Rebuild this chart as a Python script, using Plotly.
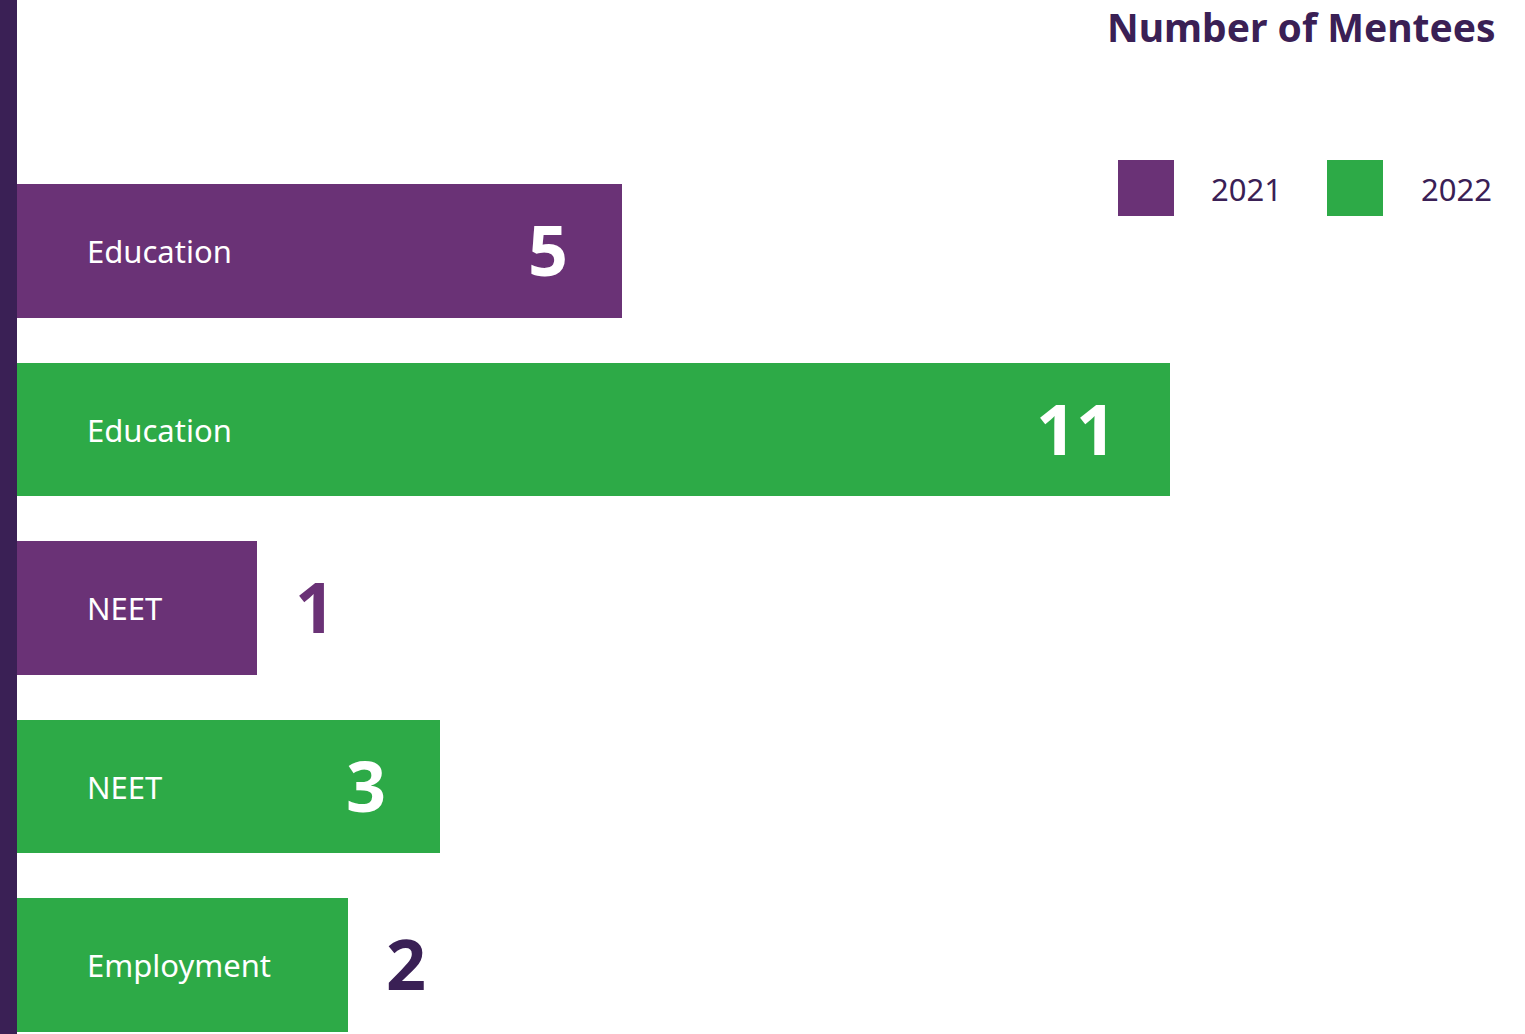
import plotly.graph_objects as go

# ---- data ----
row_labels = ["Education", "Education", "NEET", "NEET", "Employment"]
row_years = ["2021", "2022", "2021", "2022", "2022"]
row_values = [5, 11, 1, 3, 2]

years = ["2021", "2022"]
year_colors = {"2021": "#6A3276", "2022": "#2DAA47"}
dark = "#3A2055"
title_text = "Number of Mentees"

# ---- layout constants ----
W, H = 1525, 1034
OFFSET = 1.63          # bars start a bit left of zero (label room)
PX_PER_UNIT = 91.28
LEFT = 17
x0 = -OFFSET
x1 = x0 + (W - LEFT) / PX_PER_UNIT
ROW_PX = 178.5
FIRST_CENTER = 251
y_top = -FIRST_CENTER / ROW_PX
y_bot = (H - FIRST_CENTER) / ROW_PX

FONT = "Noto Sans"

fig = go.Figure()
rows = list(range(len(row_labels)))
for yr in years:
    idx = [i for i in rows if row_years[i] == yr]
    fig.add_trace(go.Bar(
        orientation="h",
        y=[i for i in idx],
        x=[row_values[i] + OFFSET for i in idx],
        base=-OFFSET,
        width=0.75,
        marker=dict(color=year_colors[yr], line=dict(width=0)),
        name=yr,
        showlegend=False,
        hoverinfo="skip",
    ))

annotations = []
for i in rows:
    v = row_values[i]
    annotations.append(dict(
        x=-OFFSET, y=i, xref="x", yref="y", text=row_labels[i],
        xanchor="left", yanchor="middle", xshift=68, showarrow=False,
        font=dict(family=FONT, size=31, color="white"),
    ))
    inside = (v + OFFSET) * PX_PER_UNIT > 380
    if inside:
        annotations.append(dict(
            x=v, y=i, xref="x", yref="y", text=f"<b>{v}</b>",
            xanchor="right", yanchor="middle", xshift=-52, yshift=2, showarrow=False,
            font=dict(family=FONT, size=70, color="white"),
        ))
    else:
        col = year_colors["2021"] if row_years[i] == "2021" else dark
        annotations.append(dict(
            x=v, y=i, xref="x", yref="y", text=f"<b>{v}</b>",
            xanchor="left", yanchor="middle", xshift=36, yshift=2, showarrow=False,
            font=dict(family=FONT, size=70, color=col),
        ))

pw = W - LEFT
# title
annotations.append(dict(
    x=(1498 - LEFT) / pw, y=1 - 26 / H, xref="paper", yref="paper", text=f"<b>{title_text}</b>",
    xanchor="right", yanchor="middle", showarrow=False,
    font=dict(family=FONT, size=39, color=dark),
))

shapes = []
# left dark strip
shapes.append(dict(type="rect", xref="paper", yref="paper",
                   x0=-LEFT / pw, x1=0, y0=0, y1=1,
                   fillcolor=dark, line=dict(width=0), layer="above"))
# custom legend
leg_sq = [(1118, 1174), (1327, 1383)]
leg_txt = [1209, 1419]
for k, yr in enumerate(years):
    sx0, sx1 = leg_sq[k]
    shapes.append(dict(type="rect", xref="paper", yref="paper",
                       x0=(sx0 - LEFT) / pw, x1=(sx1 - LEFT) / pw,
                       y0=1 - 216 / H, y1=1 - 160 / H,
                       fillcolor=year_colors[yr], line=dict(width=0)))
    annotations.append(dict(
        x=(leg_txt[k] - LEFT) / pw, y=1 - 189 / H, xref="paper", yref="paper",
        text=yr, xanchor="left", yanchor="middle", showarrow=False,
        font=dict(family=FONT, size=31, color=dark),
    ))

fig.update_layout(
    width=W, height=H,
    margin=dict(l=LEFT, r=0, t=0, b=0),
    paper_bgcolor="white", plot_bgcolor="white",
    xaxis=dict(range=[x0, x1], visible=False, fixedrange=True),
    yaxis=dict(range=[y_bot, y_top], visible=False, fixedrange=True),
    bargap=0,
    annotations=annotations,
    shapes=shapes,
    showlegend=False,
)

fig.write_html("out.html", config={"displayModeBar": False},
               post_script="document.body.style.margin='0';document.body.style.overflow='hidden';")
